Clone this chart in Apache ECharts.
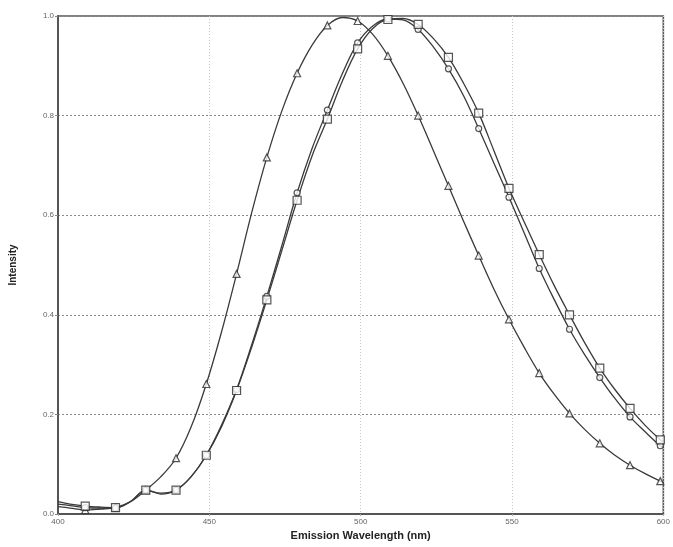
<!DOCTYPE html>
<html>
<head>
<meta charset="utf-8">
<script src="https://cdn.jsdelivr.net/npm/echarts@6/dist/echarts.min.js"></script>
<style>
html,body{margin:0;padding:0;background:#fff;}
#chart{width:673px;height:547px;}
</style>
</head>
<body>
<div id="chart"></div>
<script>
// Wavelengths (nm)
const wavelengths = [400, 404, 409, 414, 419, 424, 429, 434, 439, 444, 449, 454, 459, 464, 469, 474, 479, 484, 489, 494, 499,
  504, 509, 514, 519, 524, 529, 534, 539, 544, 549, 554, 559, 564, 569, 574, 579, 584, 589, 594, 599, 600];

const triangleSeries = [0.015, 0.012, 0.008, 0.010, 0.013, 0.025, 0.048, 0.075, 0.112, 0.175, 0.261, 0.365, 0.482, 0.605, 0.716, 0.810, 0.885, 0.942, 0.981, 0.997, 0.990,
  0.963, 0.920, 0.865, 0.800, 0.730, 0.659, 0.588, 0.519, 0.452, 0.391, 0.335, 0.283, 0.240, 0.202, 0.170, 0.142, 0.118, 0.098, 0.081, 0.066, 0.064];

const circleSeries = [0.020, 0.017, 0.013, 0.012, 0.012, 0.025, 0.048, 0.042, 0.048, 0.075, 0.118, 0.178, 0.250, 0.340, 0.437, 0.540, 0.645, 0.735, 0.811, 0.885, 0.946,
  0.980, 0.994, 0.992, 0.973, 0.938, 0.894, 0.840, 0.774, 0.705, 0.636, 0.565, 0.493, 0.430, 0.371, 0.320, 0.274, 0.232, 0.195, 0.165, 0.137, 0.135];

const squareSeries = [0.025, 0.020, 0.016, 0.014, 0.013, 0.025, 0.048, 0.040, 0.048, 0.075, 0.118, 0.175, 0.248, 0.335, 0.430, 0.530, 0.630, 0.720, 0.793, 0.870, 0.934,
  0.975, 0.993, 0.995, 0.983, 0.955, 0.917, 0.865, 0.805, 0.730, 0.654, 0.587, 0.521, 0.458, 0.400, 0.344, 0.293, 0.250, 0.212, 0.178, 0.149, 0.145];

const xTicks = [400, 450, 500, 550, 600];
const yTicks = [0.0, 0.2, 0.4, 0.6, 0.8, 1.0];

function pairs(vals) { return wavelengths.map((w, i) => [w, vals[i]]); }
function markerPairs(vals) {
  return wavelengths.map((w, i) => [w, vals[i]]).filter(p => p[0] % 10 === 9);
}

const lineColor = '#3a3a3a';
function lineSeries(vals) {
  return {
    type: 'line', data: pairs(vals), showSymbol: false, smooth: 0.35,
    lineStyle: { color: lineColor, width: 1.3 }, z: 2, silent: true
  };
}
function markerSeries(vals, symbol, size) {
  return {
    type: 'scatter', data: markerPairs(vals), symbol: symbol, symbolSize: size,
    itemStyle: { color: '#fff', borderColor: '#2a2a2a', borderWidth: 1.2 }, z: 3, silent: true
  };
}

const chart = echarts.init(document.getElementById('chart'), null, { renderer: 'canvas' });
chart.setOption({
  animation: false,
  backgroundColor: '#fff',
  grid: { left: 57, right: 6, top: 16, bottom: 33, show: true, borderColor: '#5a5a5a', borderWidth: 1.6 },
  xAxis: {
    type: 'value', min: 400, max: 600, interval: 50,
    name: 'Emission Wavelength (nm)', nameLocation: 'middle', nameGap: 16,
    nameTextStyle: { fontFamily: 'Liberation Sans', fontWeight: 'bold', fontSize: 11, color: '#222' },
    axisLine: { show: true, lineStyle: { color: '#555', width: 2 } },
    axisTick: { show: true, length: 2, lineStyle: { color: '#aaa' } },
    axisLabel: { fontFamily: 'Liberation Sans', fontSize: 8, color: '#666', margin: 4,
      formatter: v => xTicks.includes(v) ? String(v) : '' },
    splitLine: { show: true, lineStyle: { color: '#c4c4c4', type: [1, 2], width: 1 } }
  },
  yAxis: {
    type: 'value', min: 0, max: 1, interval: 0.2,
    name: 'Intensity', nameLocation: 'middle', nameGap: 40,
    nameTextStyle: { fontFamily: 'Liberation Sans', fontWeight: 'bold', fontSize: 10, color: '#222' },
    axisLine: { show: true, lineStyle: { color: '#555', width: 2 } },
    axisTick: { show: true, length: 3, lineStyle: { color: '#888' } },
    axisLabel: { fontFamily: 'Liberation Sans', fontSize: 8, color: '#666', margin: 4,
      formatter: v => { const t = yTicks.find(y => Math.abs(y - v) < 1e-9); return t === undefined ? '' : t.toFixed(1); } },
    splitLine: { show: true, lineStyle: { color: '#8a8a8a', type: [2, 2], width: 1 } }
  },
  series: [
    lineSeries(triangleSeries),
    lineSeries(circleSeries),
    lineSeries(squareSeries),
    markerSeries(triangleSeries, 'triangle', 7),
    markerSeries(circleSeries, 'circle', 6),
    markerSeries(squareSeries, 'rect', 8)
  ]
});
</script>
</body>
</html>
